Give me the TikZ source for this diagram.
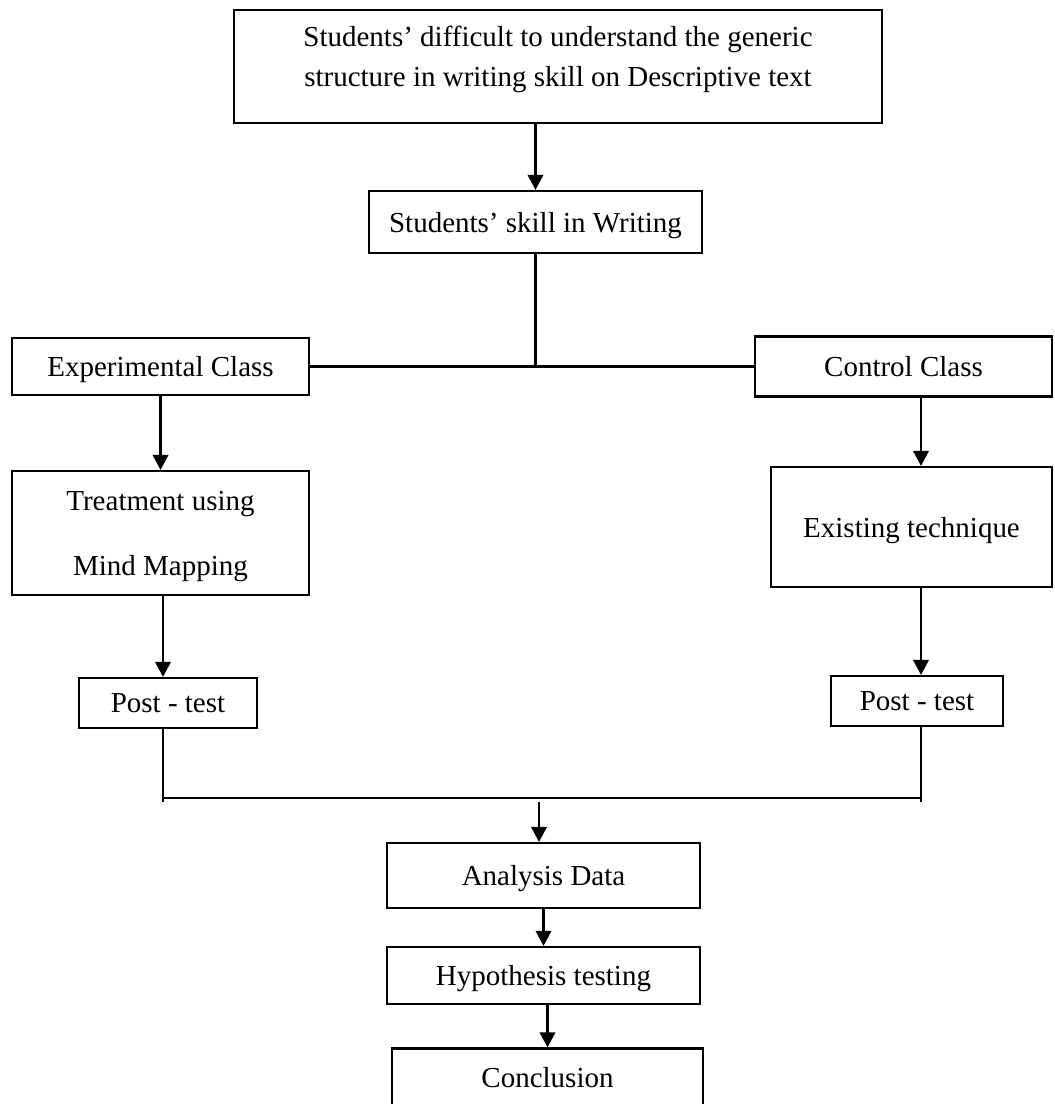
\documentclass[tikz,border=0pt]{standalone}
\usepackage{fontspec}
\setmainfont{Liberation Serif}
\usetikzlibrary{arrows.meta}
\begin{document}
\begin{tikzpicture}[x=0.4138pt, y=-0.4138pt, line width=0.9pt, every node/.style={draw, rectangle, line width=0.9pt, inner sep=2pt, align=center, text depth=0pt, font=\fontsize{12pt}{14.5pt}\selectfont}, arr/.style={-{Triangle[width=6.4pt, length=6.2pt]}}]
			\useasboundingbox (0,0) rectangle (1054,1104);
			\node[minimum width=268.1pt, minimum height=46.8pt, text depth=8.4pt] (prob) at (558,66.5) {Students’ difficult to understand the generic\\[2.1pt]structure in writing skill on Descriptive text};
			\node[minimum width=137.8pt, minimum height=25.7pt] (skill) at (535.5,222) {Students’ skill in Writing};
			\node[minimum width=122.9pt, minimum height=23.6pt] (exp) at (160.5,366.5) {Experimental Class};
			\node[minimum width=122.9pt, minimum height=24.8pt] (ctrl) at (903.5,366.5) {Control Class};
			\node[minimum width=122.9pt, minimum height=51.3pt] (treat) at (160.5,533) {Treatment using\\[12.4pt]Mind Mapping};
			\node[minimum width=116.3pt, minimum height=49.7pt] (exist) at (911.5,527) {Existing technique};
			\node[minimum width=73.7pt, minimum height=20.7pt] (postL) at (168,703) {Post - test};
			\node[minimum width=71.2pt, minimum height=20.7pt] (postR) at (917,701) {Post - test};
			\node[minimum width=129.5pt, minimum height=26.9pt] (analysis) at (543.5,875.5) {Analysis Data};
			\node[minimum width=129.5pt, minimum height=23.6pt] (hyp) at (543.5,975.5) {Hypothesis testing};
			\node[minimum width=128.7pt, minimum height=23.6pt] (concl) at (547.5,1077) {Conclusion};
			\coordinate (lj) at (163,802);
			\coordinate (rj) at (921,802);
			\coordinate (lbar) at (163,798);
			\coordinate (rbar) at (921,798);
			\coordinate (merge) at (539,802);
			\draw[arr] (prob.south -| skill.north) -- (skill.north);
			\draw (skill.south) -- (skill.south |- exp.east);
			\draw (exp.east) -- (ctrl.west);
			\draw[arr] (exp.south) -- (treat.north);
			\draw[arr] (treat.south -| lj) -- (postL.north -| lj);
			\draw[arr] (ctrl.south -| rj) -- (exist.north -| rj);
			\draw[arr] (exist.south -| rj) -- (postR.north -| rj);
			\draw (postL.south -| lj) -- (lj);
			\draw (postR.south -| rj) -- (rj);
			\draw (lbar) -- (rbar);
			\draw[arr] (merge) -- (merge |- analysis.north);
			\draw[arr] (analysis.south) -- (hyp.north);
			\draw[arr] (hyp.south -| concl.north) -- (concl.north);
		\end{tikzpicture}
\end{document}
